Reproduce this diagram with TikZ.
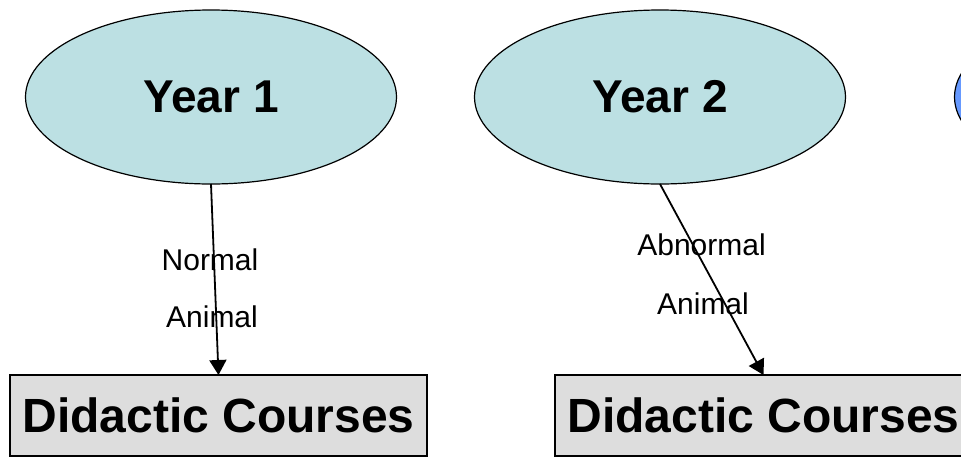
\documentclass[tikz,border=0pt]{standalone}
\usepackage{fontspec}
\setmainfont{Liberation Sans}
\usetikzlibrary{shapes.geometric,arrows.meta}
\definecolor{yearblue}{RGB}{188,224,227}
\definecolor{nextblue}{RGB}{102,153,255}
\definecolor{coursegray}{RGB}{221,221,221}
\begin{document}
\begin{tikzpicture}[x=1pt, y=-1pt,
  year/.style = {draw, ellipse, fill=yearblue, line width=1.2pt, minimum width=371pt, minimum height=174pt, inner sep=0pt, outer sep=0pt, font=\fontsize{46}{50}\selectfont\bfseries},
  course/.style = {draw, fill=coursegray, line width=1.8pt, minimum width=417pt, minimum height=81pt, inner sep=0pt, outer sep=0pt, font=\fontsize{48}{52}\selectfont\bfseries},
  animal/.style = {inner sep=0pt, font=\fontsize{30}{32}\selectfont},
  link/.style = {line width=1.8pt, -{Triangle[length=15pt,width=17pt]}}]
\useasboundingbox (0,0) rectangle (961,456);
\clip (0,0) rectangle (961,456);
\node[year] (y1) at (211,97) {Year 1};
\node[year] (y2) at (660,97) {Year 2};
\node[year, fill=nextblue] (y3) at (1140,97) {};
\node[course] (c1) at (218.5,415.5) {Didactic Courses};
\node[course] (c2) at (763.5,415.5) {Didactic Courses};
\draw[link] (y1.south) -- (c1.north);
\draw[link] (y2.south) -- (c2.north);
\node[animal] (n1) at (210,260) {Normal};
\node[animal] (n2) at (212,316.5) {Animal};
\node[animal] (a1) at (701.5,245) {Abnormal};
\node[animal] (a2) at (703,303.5) {Animal};
\end{tikzpicture}
\end{document}
